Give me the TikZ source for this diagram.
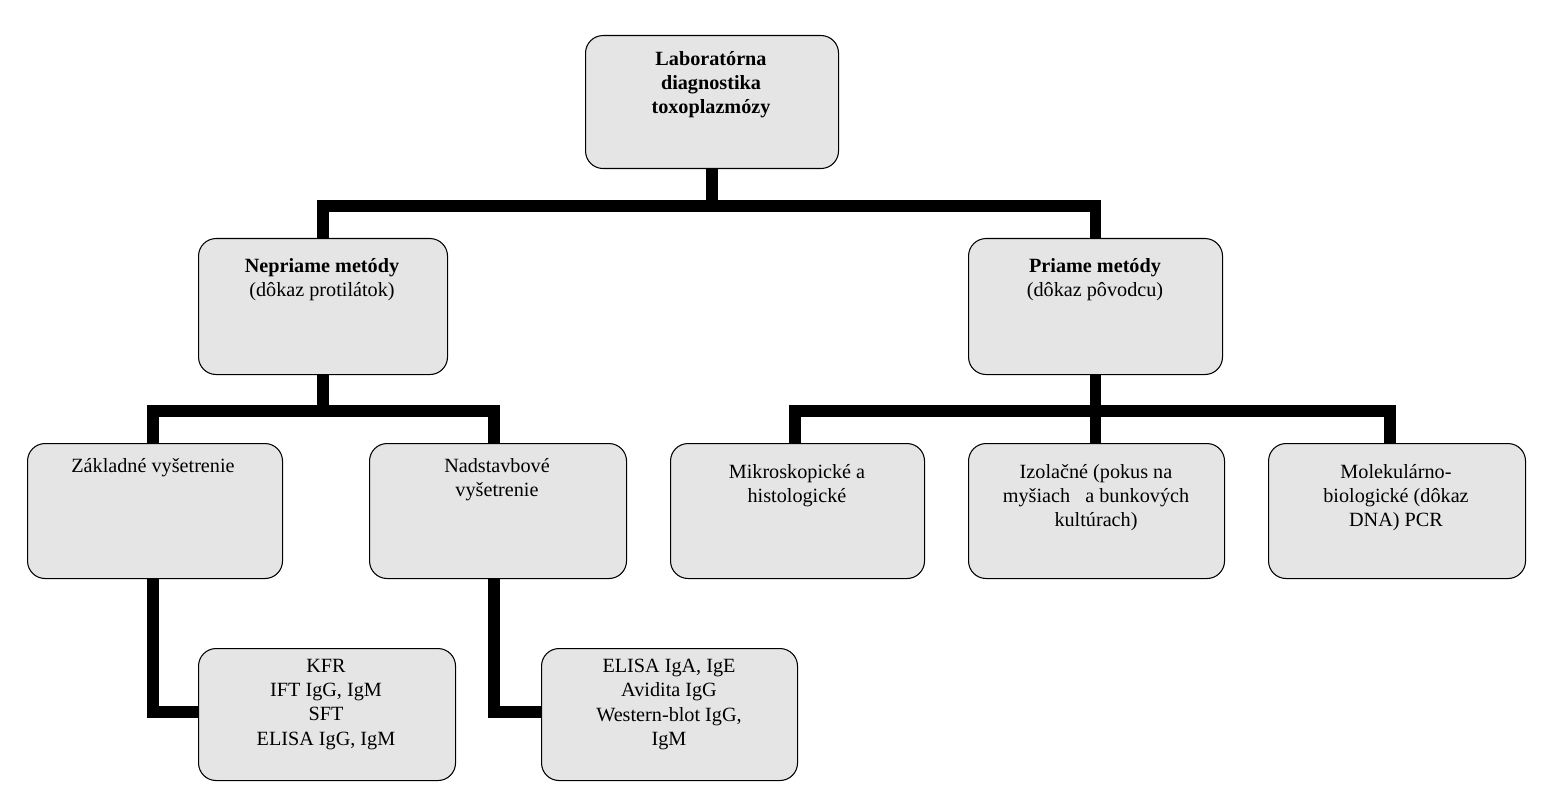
\documentclass[tikz,border=0pt]{standalone}
\usepackage{fontspec}
\setmainfont{Liberation Serif}
\begin{document}
\begin{tikzpicture}[
    x=0.02cm, y=-0.02cm,
    box/.style={rectangle, draw, fill=black!10, rounded corners=10pt, line width=0.6pt, anchor=north west, inner sep=0pt},
    txt/.style={anchor=north, align=center, font=\fontsize{11.5}{13.8}\selectfont},
    link/.style={line width=6.5pt, line join=miter, line cap=butt}
]
\useasboundingbox (0,0) rectangle (1544,800);

% Boxy
\node[box, minimum width=253*0.02cm, minimum height=133*0.02cm] (lab) at (585,35) {};
\node[box, minimum width=249*0.02cm, minimum height=136*0.02cm] (nepr) at (198,238) {};
\node[box, minimum width=254*0.02cm, minimum height=136*0.02cm] (prim) at (968,238) {};
\node[box, minimum width=255*0.02cm, minimum height=135*0.02cm] (zakl) at (27,443) {};
\node[box, minimum width=257*0.02cm, minimum height=135*0.02cm] (nads) at (369,443) {};
\node[box, minimum width=254*0.02cm, minimum height=135*0.02cm] (mikro) at (670,443) {};
\node[box, minimum width=256*0.02cm, minimum height=135*0.02cm] (izol) at (968,443) {};
\node[box, minimum width=257*0.02cm, minimum height=135*0.02cm] (molek) at (1268,443) {};
\node[box, minimum width=257*0.02cm, minimum height=132*0.02cm] (kfr) at (198,648) {};
\node[box, minimum width=256*0.02cm, minimum height=132*0.02cm] (elisa) at (541,648) {};

% Texty
\node[txt] (labT) at (711,45) {\textbf{Laboratórna}\\\textbf{diagnostika}\\\textbf{toxoplazmózy}};
\node[txt] (neprT) at (322,252) {\textbf{Nepriame metódy}\\(dôkaz protilátok)};
\node[txt] (primT) at (1095,252) {\textbf{Priame metódy}\\(dôkaz pôvodcu)};
\node[txt] (zaklT) at (153,452) {Základné vyšetrenie};
\node[txt] (nadsT) at (497,452) {Nadstavbové\\vyšetrenie};
\node[txt] (mikroT) at (797,458) {Mikroskopické a\\histologické};
\node[txt] (izolT) at (1096,458) {Izolačné (pokus na\\myšiach~~ a bunkových\\kultúrach)};
\node[txt] (molekT) at (1396,458) {Molekulárno-\\biologické (dôkaz\\DNA) PCR};
\node[txt] (kfrT) at (326,653) {KFR\\IFT IgG, IgM\\SFT\\ELISA IgG, IgM};
\node[txt] (elisaT) at (669,653) {ELISA IgA, IgE\\Avidita IgG\\Western-blot IgG,\\IgM};

% Spojnice
\draw[link] (lab.south) -- ++(0,37) -| (prim.north);
\draw[link] (lab.south) ++(0,37) -| (nepr.north);
\draw[link] (nepr.south) -- ++(0,36) -| (nads.north -| 494,0);
\draw[link] (nepr.south) ++(0,36) -| (zakl.north -| 153,0);
\draw[link] (prim.south) -- ++(0,36) -| (molek.north -| 1390,0);
\draw[link] (prim.south) ++(0,36) -| (mikro.north -| 795,0);
\draw[link] (prim.south) -- (izol.north -| prim.south);
\draw[link] (zakl.south -| 153,0) |- (kfr.west |- 0,712);
\draw[link] (nads.south -| 494,0) |- (elisa.west |- 0,712);
\end{tikzpicture}
\end{document}
